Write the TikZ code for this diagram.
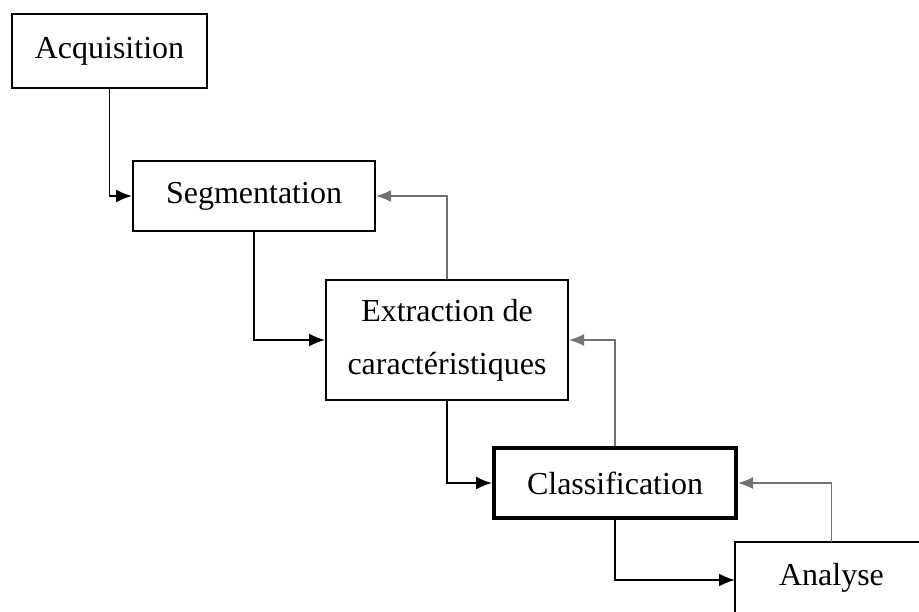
\documentclass[tikz,border=0pt]{standalone}
\usepackage{fontspec}
\setmainfont{Liberation Serif}
\usetikzlibrary{arrows.meta}

\tikzset{
	stage/.style={draw, line width=2pt, minimum width=242pt, minimum height=70pt, inner sep=0pt,
		align=center, font=\fontsize{32}{53}\selectfont},
	flow/.style={line width=1.8pt, -{Latex[length=16pt,width=13pt]}},
	back/.style={line width=1.6pt, -{Latex[length=15pt,width=12pt]}, color=black!55}
}

\begin{document}
\begin{tikzpicture}[x=1pt,y=-1pt]
	\useasboundingbox (0,0) rectangle (919,612);
	\clip (0,0) rectangle (919,612);
	
	%boxes
	\node[stage, minimum width=195pt, minimum height=74pt] (acq) at (109.5,51) {Acquisition};
	\node[stage] (seg) at (254,196) {Segmentation};
	\node[stage, minimum height=120pt] (ext) at (447,340) {Extraction de\\caract\'eristiques};
	\node[stage, line width=4pt] (cls) at (615,483) {Classification};
	\node[stage, draw=none, minimum width=184pt, minimum height=74pt, anchor=west] (ana) at (735,580) {};	%runs off the page
	\node[font=\fontsize{32}{53}\selectfont] (anatext) at (831.5,578) {Analyse};
	\draw[line width=2pt] (ana.north east) -- (ana.north west) -- (ana.south west);	%only top and left show
	
	%forward arrows
	\draw[flow] (acq.south) |- (seg.west);
	\draw[flow] (seg.south) |- (ext.west);
	\draw[flow] (ext.south) |- (cls.west);
	\draw[flow] (cls.south) |- (ana.west);
	
	%feedback arrows
	\draw[back] (ext.north) |- (seg.east);
	\draw[back] (cls.north) |- (ext.east);
	\draw[back] (anatext |- ana.north) |- (cls.east);
\end{tikzpicture}
\end{document}
